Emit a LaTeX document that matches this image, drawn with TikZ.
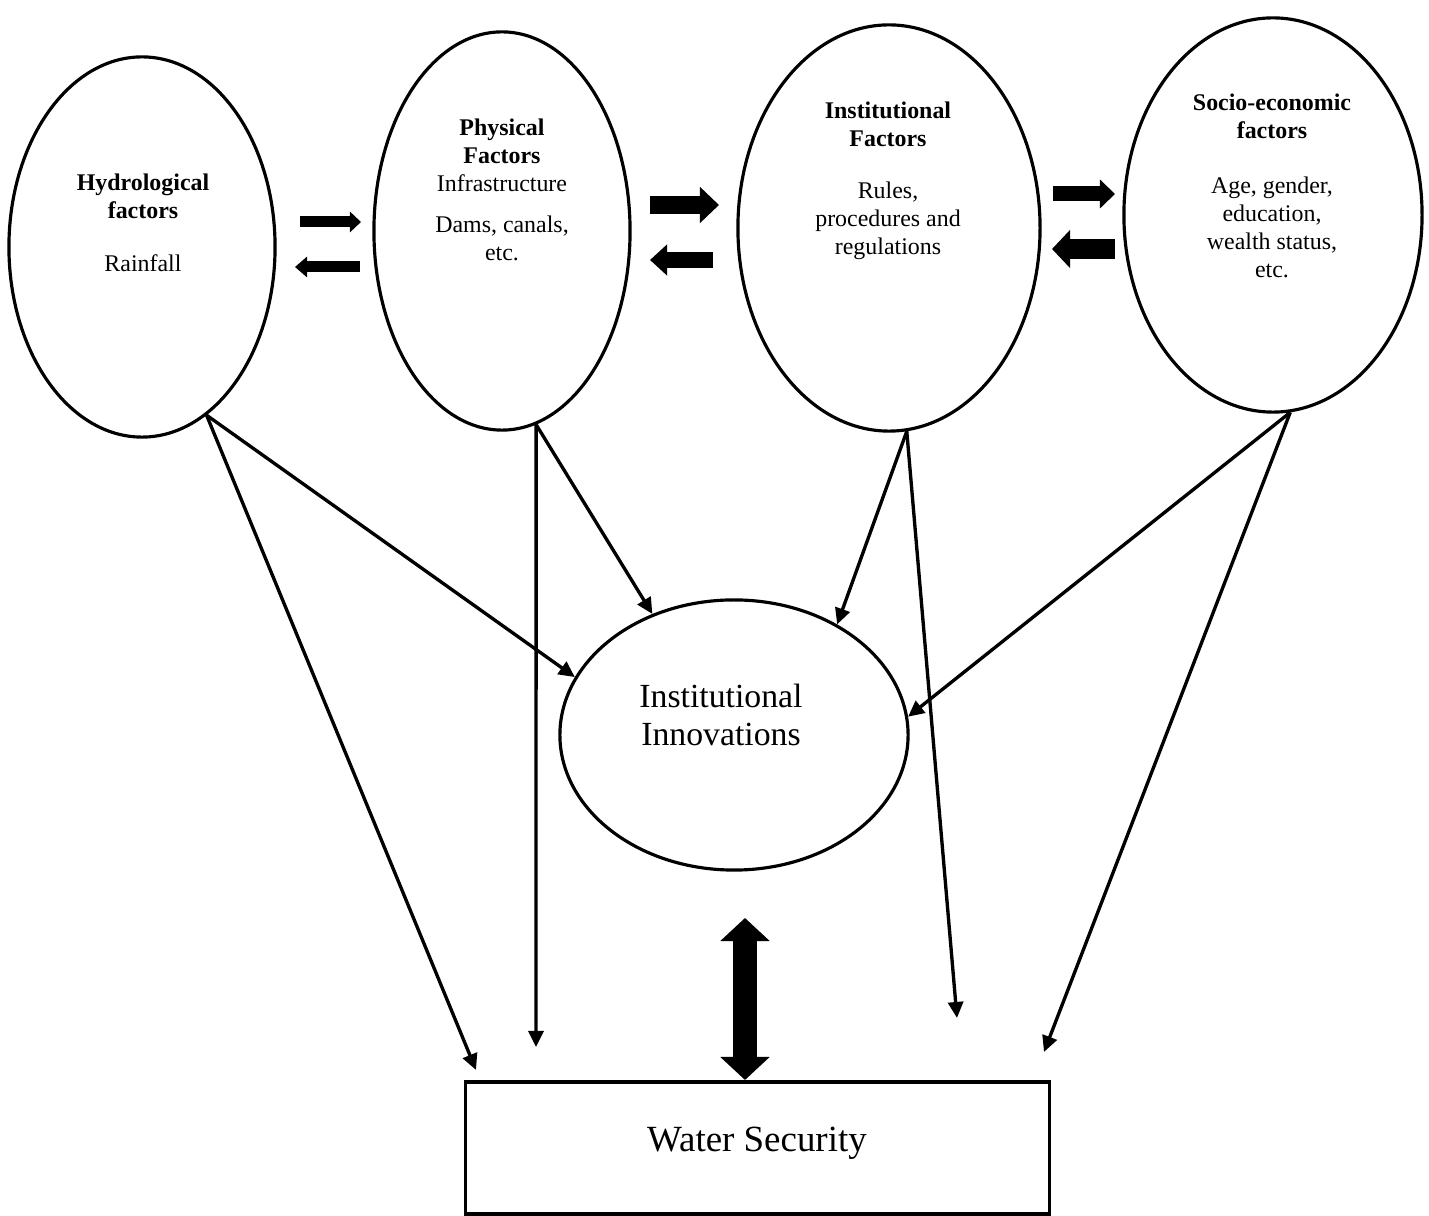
\documentclass[tikz,border=0pt]{standalone}
\usepackage{fontspec}
\setmainfont{Liberation Serif}
\usetikzlibrary{shapes.geometric,arrows.meta}

\begin{document}
\begin{tikzpicture}[x=0.01cm, y=-0.01cm,
  factor/.style={draw, ellipse, line width=0.9pt, inner sep=0pt},
  ftext/.style={align=center, font=\fontsize{6.8}{8}\selectfont},
  link/.style={line width=0.95pt, -{Triangle[length=0.16cm, width=0.15cm]}},
]
\useasboundingbox (0,0) rectangle (1429,1216);

% --- factores ---
\node[factor, minimum width=2.66cm, minimum height=3.80cm] (hyd) at (142,247) {};
\node[factor, minimum width=2.56cm, minimum height=3.98cm] (phy) at (502,231) {};
\node[factor, minimum width=3.02cm, minimum height=4.06cm] (ins) at (889,228) {};
\node[factor, minimum width=2.98cm, minimum height=3.94cm] (soc) at (1273,215) {};
% textos
\node[ftext] (hydt) at (143,223) {\textbf{Hydrological}\\\textbf{factors}\\[7pt]Rainfall};
\node[ftext] (phyt) at (502,190) {\textbf{Physical}\\\textbf{Factors}\\Infrastructure\\[3.5pt]Dams, canals,\\etc.};
\node[ftext] (inst) at (888,181) {\textbf{Institutional}\\\textbf{Factors}\\[6.8pt]Rules,\\procedures and\\regulations};
\node[ftext] (soct) at (1272,186) {\textbf{Socio-economic}\\\textbf{factors}\\[7.6pt]Age, gender,\\education,\\wealth status,\\etc.};

% --- innovaciones y seguridad ---
\node[factor, minimum width=3.48cm, minimum height=2.70cm] (inn) at (734,735) {};
\node[align=center, font=\fontsize{9.6}{10.6}\selectfont] (innt) at (721,715) {Institutional\\Innovations};
\node[draw, line width=0.9pt, inner sep=0pt, minimum width=5.83cm, minimum height=1.32cm] (ws) at (757.5,1148) {};
\node[font=\fontsize{10.5}{12}\selectfont] (wst) at (757,1143) {Water Security};

% --- flechas gruesas entre factores ---
\coordinate (r1a) at (300,222);  \coordinate (r1b) at (361,222);
\coordinate (l1a) at (360,267);  \coordinate (l1b) at (295,267);
\coordinate (r2a) at (650,205);  \coordinate (r2b) at (719,205);
\coordinate (l2a) at (713,260);  \coordinate (l2b) at (650,260);
\coordinate (r3a) at (1053,194); \coordinate (r3b) at (1115,194);
\coordinate (l3a) at (1115,249); \coordinate (l3b) at (1052,249);
\draw[line width=0.11cm, -{Triangle[length=0.11cm, width=0.20cm]}] (r1a) -- (r1b);
\draw[line width=0.11cm, -{Triangle[length=0.12cm, width=0.20cm]}] (l1a) -- (l1b);
\draw[line width=0.18cm, -{Triangle[length=0.19cm, width=0.35cm]}] (r2a) -- (r2b);
\draw[line width=0.16cm, -{Triangle[length=0.17cm, width=0.30cm]}] (l2a) -- (l2b);
\draw[line width=0.15cm, -{Triangle[length=0.15cm, width=0.28cm]}] (r3a) -- (r3b);
\draw[line width=0.20cm, -{Triangle[length=0.18cm, width=0.37cm]}] (l3a) -- (l3b);

% doble flecha
\coordinate (dtop) at (745,918);
\coordinate (dbot) at (745,1080);
\draw[line width=0.23cm, {Triangle[length=0.23cm, width=0.48cm]}-{Triangle[length=0.23cm, width=0.48cm]}] (dtop) -- (dbot);

% --- flechas finas ---
\coordinate (hw) at (476,1070);
\coordinate (pw) at (536,1047);
\coordinate (iw) at (957,1018);
\coordinate (sw) at (1044,1052);
\draw[link] (hyd.-69) -- (inn.160);
\draw[link] (hyd.-69) -- (hw);
\draw[link] (phy.-80) -- (inn.124);
\draw[link] (phy.-80) -- (pw);
\draw[link] (ins.-85.5) -- (inn.47);
\draw[link] (ins.-85.5) -- (iw);
\draw[link] (soc.-85.6) -- (inn.6);
\draw[link] (soc.-85.6) -- (sw);

\end{tikzpicture}
\end{document}
